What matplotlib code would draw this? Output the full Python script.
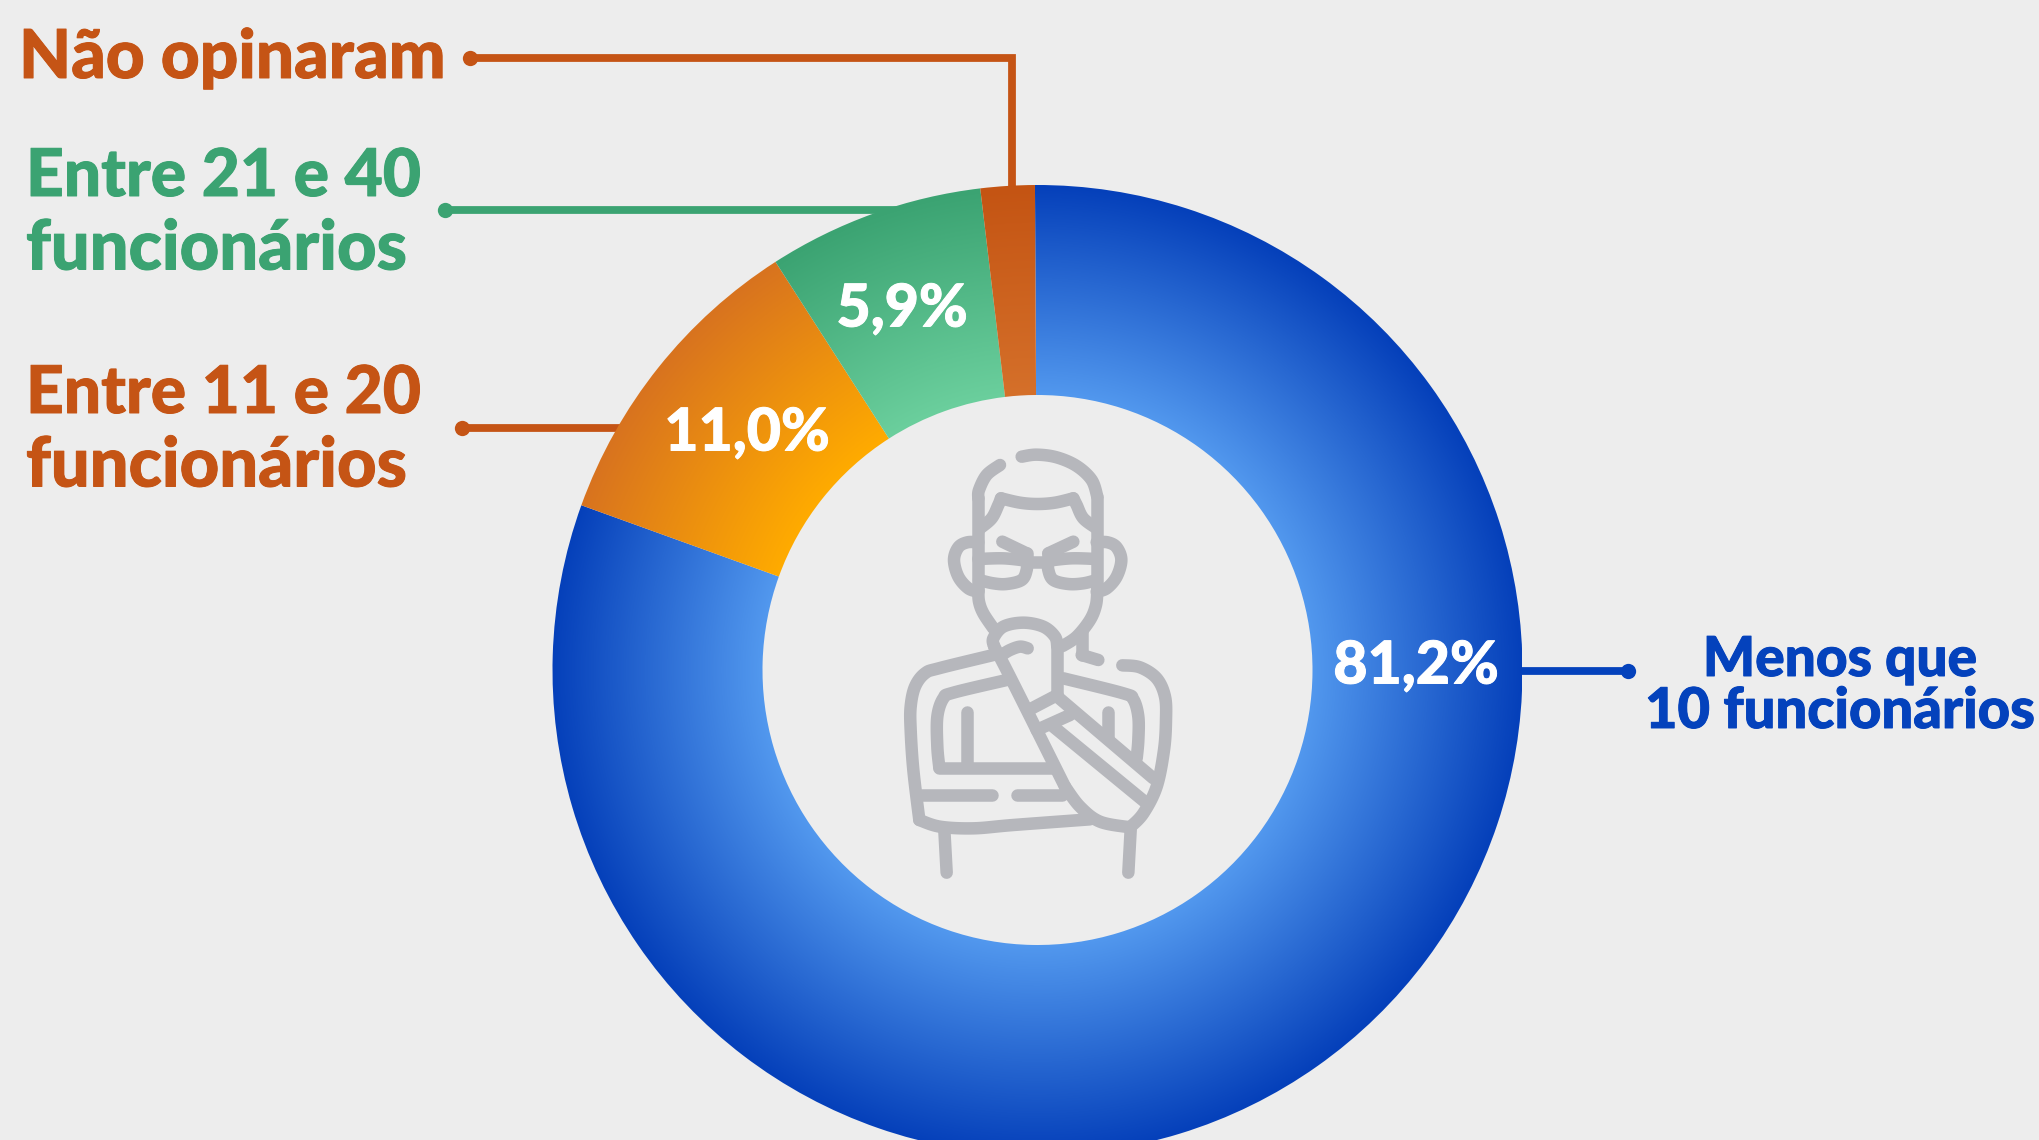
import numpy as np
import matplotlib
matplotlib.use('Agg')
import matplotlib.pyplot as plt
import matplotlib.patheffects as pe
from matplotlib.colors import LinearSegmentedColormap

categorias = ['Menos que\n10 funcionários', 'Entre 11 e 20\nfuncionários', 'Entre 21 e 40\nfuncionários', 'Não opinaram']
# fatias como aparecem desenhadas (nao batem exatamente com os rotulos)
valores = [80.6, 10.4, 7.2, 1.8]
rotulos = ['81,2%', '11,0%', '5,9%']

# cor externa / cor interna de cada fatia
cores_fora = ['#0540BA', '#D8731F', '#3BA372', '#C45413']
cores_dentro = ['#5298EE', '#FFAB00', '#6BCF9D', '#D5702A']
cores_texto = ['#0442BC', '#C55415', '#3BA372', '#C55415']
cor_fundo = '#EDEDED'
cor_icone = '#B6B7BC'

W, H = 2040, 1140
cx, cy = 1037.5, 670
r_fora, r_dentro = 485, 275

def Y(y):
    # a referencia foi medida em pixels com y para baixo
    return H - y

fig = plt.figure(figsize=(W / 100, H / 100), dpi=100, facecolor=cor_fundo)
ax = fig.add_axes([0, 0, 1, 1])
ax.set_facecolor(cor_fundo)

# linhas de chamada ficam atras da rosca
def chamada(xs, ys, cor):
    ax.plot(xs, [Y(v) for v in ys], color=cor, lw=5.6, solid_capstyle='butt',
            solid_joinstyle='miter', zorder=1)
    ax.plot(xs[0], Y(ys[0]), 'o', color=cor, ms=11, mew=0, zorder=1)

chamada([470, 1012, 1012], [58, 58, 190], cores_texto[3])
chamada([445, 900], [210, 210], cores_texto[2])
chamada([462, 625], [428, 428], cores_texto[1])
chamada([1628, 1520], [671, 671], cores_texto[0])

fatias, _ = ax.pie(valores, startangle=90.3, counterclock=False, radius=r_fora,
                   center=(cx, Y(cy)), frame=True,
                   wedgeprops=dict(width=r_fora - r_dentro, linewidth=0, zorder=2))

# gradiente radial recortado por cada fatia
gx, gy = np.meshgrid(np.arange(cx - r_fora, cx + r_fora + 1),
                     np.arange(Y(cy) - r_fora, Y(cy) + r_fora + 1))
t = (np.hypot(gx - cx, gy - Y(cy)) - r_dentro) / (r_fora - r_dentro)
t = np.clip(t, 0, 1)
for fatia, c_d, c_f in zip(fatias, cores_dentro, cores_fora):
    fatia.set_facecolor('none')
    cmap = LinearSegmentedColormap.from_list('g', [c_d, c_f])
    im = ax.imshow(t, cmap=cmap, vmin=0, vmax=1, origin='lower', aspect='auto', zorder=2,
                   extent=(cx - r_fora, cx + r_fora, Y(cy) - r_fora, Y(cy) + r_fora))
    im.set_clip_path(fatia)

ax.set_xlim(0, W)
ax.set_ylim(0, H)
ax.axis('off')

def texto(x, y, s, cor, tam, ha='left', z=3):
    t_ = ax.text(x, Y(y), s, color=cor, fontsize=tam, va='center', ha=ha, zorder=z,
                 family='Lato', fontweight='black')
    t_.set_path_effects([pe.withStroke(linewidth=0.7, foreground=cor)])

texto(19, 59, categorias[3], cores_texto[3], 48.6)
for cat, cor, y0 in [(categorias[2], cores_texto[2], 177), (categorias[1], cores_texto[1], 394)]:
    l1, l2 = cat.split('\n')
    texto(26, y0, l1, cor, 47.4)
    texto(26, y0 + 73, l2, cor, 49.4)
l1, l2 = categorias[0].split('\n')
texto(1840, 660, l1, cores_texto[0], 39.6, ha='center')
texto(1840, 712, l2, cores_texto[0], 40.4, ha='center')

for txt, x, y in zip(rotulos, [1416, 747, 902], [666, 433, 309]):
    texto(x, y, txt, 'white', 42.5, ha='center')

# icone: tracos medidos num recorte 3x a partir de (880, 430)
def suave(pts, n=14):
    p = np.array(pts, dtype=float)
    if len(p) < 3:
        return p
    p = np.vstack([p[0], p, p[-1]])
    saida = []
    for i in range(1, len(p) - 2):
        for u in np.linspace(0, 1, n, endpoint=False):
            saida.append(0.5 * (2 * p[i] + (p[i + 1] - p[i - 1]) * u
                                + (2 * p[i - 1] - 5 * p[i] + 4 * p[i + 1] - p[i + 2]) * u ** 2
                                + (3 * p[i] - p[i - 1] - 3 * p[i + 1] + p[i + 2]) * u ** 3))
    saida.append(p[-2])
    return np.array(saida)

tracos = [
    [(425, 80), (470, 74), (530, 82), (590, 108), (635, 150), (652, 200)],
    [(652, 200), (652, 480)],
    [(652, 480), (648, 525), (630, 570), (590, 620), (548, 648)],
    [(360, 105), (320, 135), (297, 180), (295, 205)],
    [(295, 205), (295, 480)],
    [(295, 480), (297, 515), (310, 550), (340, 595)],
    [(300, 295), (335, 265), (355, 225), (363, 205)],
    [(363, 205), (420, 218), (472, 222), (525, 218), (580, 205)],
    [(580, 205), (590, 225), (610, 265), (650, 295)],
    [(295, 337), (262, 337), (235, 352), (222, 390), (235, 440), (265, 475), (295, 485)],
    [(650, 337), (683, 337), (710, 352), (724, 390), (710, 440), (680, 475), (650, 485)],
    [(295, 387), (370, 385), (440, 392)],
    [(440, 392), (440, 420), (425, 450), (380, 462), (340, 460), (297, 450)],
    [(650, 387), (575, 385), (505, 392)],
    [(505, 392), (505, 420), (520, 450), (565, 462), (610, 460), (650, 450)],
    [(440, 395), (505, 395)],
    [(367, 335), (440, 370)], [(440, 370), (440, 392)],
    [(580, 335), (505, 370)], [(505, 370), (505, 392)],
    [(342, 648), (340, 625), (370, 590), (430, 578), (490, 590), (525, 620), (532, 650)],
    [(532, 650), (532, 795)],
    [(443, 655), (420, 650), (390, 660), (365, 675)],
    [(342, 648), (395, 750), (555, 1070)],
    [(555, 1070), (600, 1130), (660, 1175), (750, 1192)],
    [(750, 1192), (790, 1150), (830, 1070), (852, 960), (858, 870), (855, 800), (830, 745), (780, 712), (727, 706)],
    [(605, 605), (605, 675)], [(605, 675), (655, 690)],
    [(340, 675), (180, 714), (135, 730), (105, 770), (92, 830), (92, 900), (100, 1020), (118, 1170)],
    [(118, 1170), (180, 1190), (280, 1195), (400, 1185), (630, 1168)],
    [(380, 750), (220, 788), (190, 805), (172, 860), (172, 950), (178, 1013)],
    [(178, 1013), (520, 1013)],
    [(262, 845), (262, 1010)],
    [(125, 1095), (335, 1095)], [(410, 1095), (545, 1095)],
    [(193, 1200), (200, 1328)], [(752, 1200), (745, 1328)],
    [(550, 745), (730, 790), (760, 808), (775, 860), (775, 930), (770, 985)],
    [(685, 845), (685, 925)],
    [(532, 795), (450, 838)],
    [(532, 800), (820, 1045)],
    [(470, 900), (570, 855)],
    [(520, 890), (800, 1120)],
]
for tr in tracos:
    c = suave(tr)
    ax.plot(880 + c[:, 0] / 3, Y(430 + c[:, 1] / 3), color=cor_icone, lw=9,
            solid_capstyle='round', solid_joinstyle='round', zorder=4)

fig.savefig('out.png', dpi=100, facecolor=cor_fundo)
